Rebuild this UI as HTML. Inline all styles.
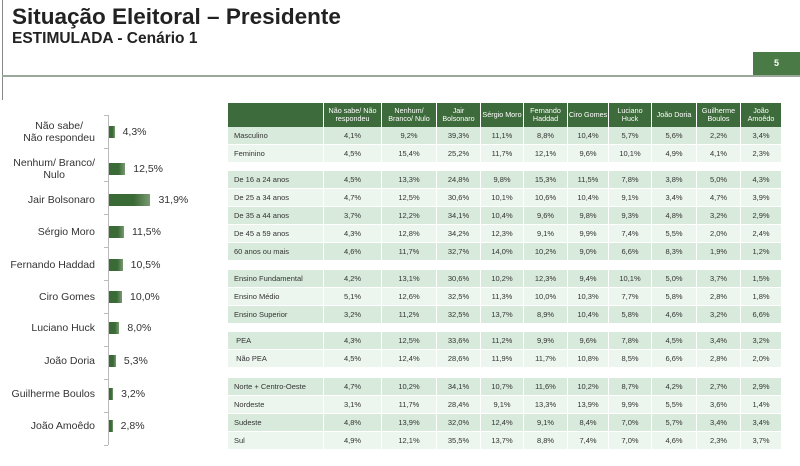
<!DOCTYPE html><html><head><meta charset="utf-8"><style>
body{margin:0;width:800px;height:466px;background:#fff;position:relative;overflow:hidden;font-family:"Liberation Sans",Arial,sans-serif}
.a{position:absolute}
.r{position:absolute;left:228px;height:17px;display:flex}
.r div{height:100%;border-right:1px solid #fff;box-sizing:border-box;font-size:7.5px;color:#333;display:flex;align-items:center;justify-content:center}
.r div:first-child{justify-content:flex-start;padding-left:6px}
.o div{background:#d8eadb}.e div{background:#ecf5ee}
.h{top:103px;height:24px}
.h div{background:#3e6b3b;color:#fff;text-align:center;line-height:8px;font-size:7.2px}
.lab{position:absolute;right:705px;font-size:10.5px;color:#333;text-align:center;line-height:12px;white-space:nowrap}
.bar{position:absolute;left:109px;height:12px;background:linear-gradient(90deg,#3a6a36 60%,#7a9a72)}
.val{position:absolute;font-size:10.5px;color:#333}
</style></head><body>
<div class="a" style="left:2px;top:0;width:1px;height:100px;background:#888"></div>
<div class="a" style="left:2px;top:75px;width:798px;height:2px;background:#9aa79a"></div>
<div class="a" style="left:12px;top:4px;font-size:22.5px;font-weight:bold;color:#222">Situação Eleitoral – Presidente</div>
<div class="a" style="left:12px;top:30px;font-size:15.5px;font-weight:bold;color:#222">ESTIMULADA - Cenário 1</div>
<div class="a" style="left:753px;top:52px;width:47px;height:23px;background:#4a7a45;color:#fff;font-size:9px;font-weight:bold;text-align:center;line-height:23px">5</div>
<div class="a" style="left:108px;top:115px;width:1px;height:330px;background:#bbb"></div>
<div id="bars"></div>
<div id="tbl"></div>
<script>
var B=[["Não sabe/<br>Não respondeu",4.3,132],["Nenhum/ Branco/<br>Nulo",12.5,169],["Jair Bolsonaro",31.9,200],["Sérgio Moro",11.5,232],["Fernando Haddad",10.5,265],["Ciro Gomes",10.0,297],["Luciano Huck",8.0,328],["João Doria",5.3,361],["Guilherme Boulos",3.2,394],["João Amoêdo",2.8,426]];
var h="";B.forEach(function(b){var w=b[1]*1.3;var two=b[0].indexOf("<br>")>0;
h+='<div class="lab" style="top:'+(b[2]-(two?12:6))+'px">'+b[0]+'</div><div class="bar" style="top:'+(b[2]-6)+'px;width:'+w+'px"></div><div class="val" style="left:'+(109+w+8)+'px;top:'+(b[2]-6)+'px">'+b[1].toFixed(1).replace(".",",")+'%</div>';});
for(var y=115;y<=445;y+=33)h+='<div class="a" style="left:104px;top:'+y+'px;width:4px;height:1px;background:#bbb"></div>';
document.getElementById("bars").innerHTML=h;
var W=[96,58,55,44,43,44,41,43,45,44,41];
var H=["","Não sabe/ Não respondeu","Nenhum/ Branco/ Nulo","Jair Bolsonaro","Sérgio Moro","Fernando Haddad","Ciro Gomes","Luciano Huck","João Doria","Guilherme Boulos","João Amoêdo"];
var R=[[127,"Masculino","4,1 9,2 39,3 11,1 8,8 10,4 5,7 5,6 2,2 3,4"],[145,"Feminino","4,5 15,4 25,2 11,7 12,1 9,6 10,1 4,9 4,1 2,3"],
[171,"De 16 a 24 anos","4,5 13,3 24,8 9,8 15,3 11,5 7,8 3,8 5,0 4,3"],[189,"De 25 a 34 anos","4,7 12,5 30,6 10,1 10,6 10,4 9,1 3,4 4,7 3,9"],[207,"De 35 a 44 anos","3,7 12,2 34,1 10,4 9,6 9,8 9,3 4,8 3,2 2,9"],[225,"De 45 a 59 anos","4,3 12,8 34,2 12,3 9,1 9,9 7,4 5,5 2,0 2,4"],[243,"60 anos ou mais","4,6 11,7 32,7 14,0 10,2 9,0 6,6 8,3 1,9 1,2"],
[270,"Ensino Fundamental","4,2 13,1 30,6 10,2 12,3 9,4 10,1 5,0 3,7 1,5"],[288,"Ensino Médio","5,1 12,6 32,5 11,3 10,0 10,3 7,7 5,8 2,8 1,8"],[306,"Ensino Superior","3,2 11,2 32,5 13,7 8,9 10,4 5,8 4,6 3,2 6,6"],
[332,"&nbsp;PEA","4,3 12,5 33,6 11,2 9,9 9,6 7,8 4,5 3,4 3,2"],[350,"&nbsp;Não PEA","4,5 12,4 28,6 11,9 11,7 10,8 8,5 6,6 2,8 2,0"],
[378,"Norte + Centro-Oeste","4,7 10,2 34,1 10,7 11,6 10,2 8,7 4,2 2,7 2,9"],[396,"Nordeste","3,1 11,7 28,4 9,1 13,3 13,9 9,9 5,5 3,6 1,4"],[414,"Sudeste","4,8 13,9 32,0 12,4 9,1 8,4 7,0 5,7 3,4 3,4"],[432,"Sul","4,9 12,1 35,5 13,7 8,8 7,4 7,0 4,6 2,3 3,7"]];
var t='<div class="r h">';H.forEach(function(x,i){t+='<div style="width:'+W[i]+'px">'+x+'</div>'});t+='</div>';
var odd=[1,0,1,0,1,0,1,1,0,1,1,0,1,0,1,0];
R.forEach(function(r,k){var c=[r[1]].concat(r[2].split(" ").map(function(v){return v+"%"}));t+='<div class="r '+(odd[k]?"o":"e")+'" style="top:'+r[0]+'px">';c.forEach(function(x,i){t+='<div style="width:'+W[i]+'px">'+x+'</div>'});t+='</div>';});
document.getElementById("tbl").innerHTML=t;
</script>
</body></html>
